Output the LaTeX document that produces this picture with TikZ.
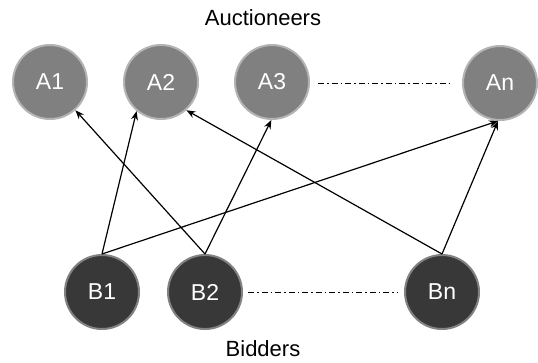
\documentclass[tikz,border=0pt]{standalone}
\usepackage{fontspec}
\setmainfont{Liberation Sans}
\usetikzlibrary{arrows.meta}
\definecolor{agray}{RGB}{128,128,128}
\definecolor{aborder}{RGB}{180,180,180}
\definecolor{bdark}{RGB}{56,56,56}
\definecolor{bborder}{RGB}{130,130,130}
\begin{document}
\begin{tikzpicture}[x=1pt,y=-1pt,
  anode/.style={circle,fill=agray,draw=aborder,line width=2pt,minimum size=74pt,inner sep=0pt,text=white,font=\fontsize{23}{26}\selectfont},
  bnode/.style={circle,fill=bdark,draw=bborder,line width=2pt,minimum size=74pt,inner sep=0pt,text=white,font=\fontsize{23}{26}\selectfont},
  label/.style={inner sep=0pt,font=\fontsize{22}{26}\selectfont},
  link/.style={line width=1.2pt,-{Stealth[length=9pt,width=7pt]}},
  dotline/.style={line width=0.8pt,dash pattern=on 6pt off 3pt on 1.5pt off 3pt}]
\useasboundingbox (0,0) rectangle (538,362);
\node[label] (auc) at (263,18) {Auctioneers};
\node[label] (bid) at (263,349) {Bidders};
\node[anode] (A1) at (50,82) {A1};
\node[anode] (A2) at (161,82) {A2};
\node[anode] (A3) at (272,82) {A3};
\node[anode] (An) at (500,83) {An};
\node[bnode] (B1) at (102,292) {B1};
\node[bnode] (B2) at (205,292) {B2};
\node[bnode] (Bn) at (442,292) {Bn};
\coordinate (d1s) at (318,83);
\coordinate (d1e) at (450,83);
\coordinate (d2s) at (248,292);
\coordinate (d2e) at (398,292);
\draw[dotline] (d1s) -- (d1e);
\draw[dotline] (d2s) -- (d2e);
\draw[link] (B1.north) -- (A2.-130);
\draw[link] (B1.north) -- (An.-93);
\draw[link] (B2.north) -- (A1.-48);
\draw[link] (B2.north) -- (A3.-91);
\draw[link] (Bn.north) -- (A2.-48);
\draw[link] (Bn.north) -- (An.-93);
\end{tikzpicture}
\end{document}
